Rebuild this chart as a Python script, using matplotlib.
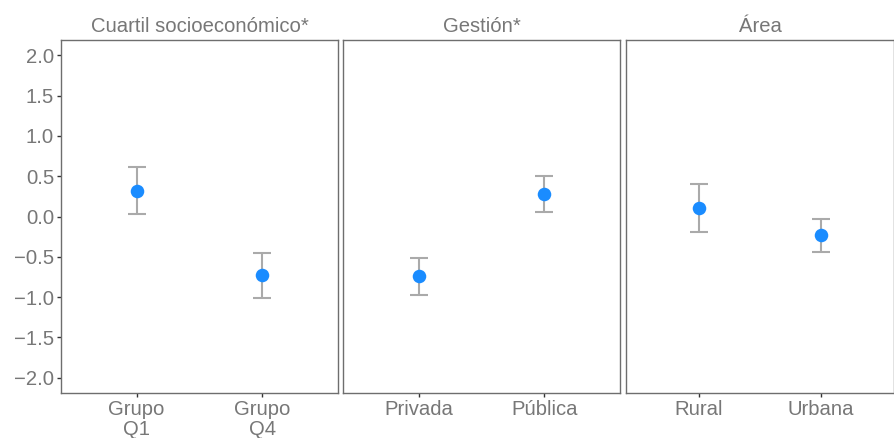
import matplotlib
matplotlib.use("Agg")
import matplotlib.pyplot as plt

# facet titles
panels = ["Cuartil socioeconómico*", "Gestión*", "Área"]

# categories per panel
cats = [["Grupo\nQ1", "Grupo\nQ4"], ["Privada", "Pública"], ["Rural", "Urbana"]]

# point estimates and confidence bounds
est = [[0.32, -0.73], [-0.74, 0.28], [0.10, -0.23]]
low = [[0.03, -1.01], [-0.97, 0.06], [-0.19, -0.44]]
high = [[0.61, -0.45], [-0.52, 0.50], [0.40, -0.03]]

yticks = [-2.0, -1.5, -1.0, -0.5, 0.0, 0.5, 1.0, 1.5, 2.0]

W, H = 894, 438
fig = plt.figure(figsize=(W / 100, H / 100), dpi=100)
plt.rcParams['font.family'] = ['Liberation Sans', 'DejaVu Sans']

txt_col = "#777777"
frame_col = "#6e6e6e"
fs = 14.6

# panel boxes in pixels: left, right
boxes = [(61, 338), (343, 620), (626, 894)]
top, bottom = 40, 393

for i, (l, r) in enumerate(boxes):
    ax = fig.add_axes([l / W, 1 - bottom / H, (r - l) / W, (bottom - top) / H])
    x = [1, 2]
    yerr = [[e - lo for e, lo in zip(est[i], low[i])],
            [hi - e for e, hi in zip(est[i], high[i])]]
    ax.errorbar(x, est[i], yerr=yerr, fmt="none", ecolor="#aaaaaa",
                elinewidth=1.5, capsize=6.5, capthick=1.5, zorder=2)
    ax.scatter(x, est[i], s=95, color="#1a8cff", zorder=3, linewidths=0)
    ax.set_xlim(0.4, 2.6)
    ax.set_ylim(-2.19, 2.19)
    ax.set_xticks(x)
    ax.set_xticklabels(cats[i], fontsize=fs, color=txt_col, linespacing=1.1)
    ax.set_yticks(yticks)
    if i == 0:
        ax.set_yticklabels(["\u2212%.1f" % abs(v) if v < 0 else "%.1f" % v for v in yticks],
                           fontsize=fs, color=txt_col)
        ax.tick_params(axis="y", length=3, width=1, color="#333333", pad=2)
    else:
        ax.tick_params(axis="y", length=0, labelleft=False)
    ax.tick_params(axis="x", length=3, width=1, color="#333333", pad=2)
    for s in ax.spines.values():
        s.set_color(frame_col)
        s.set_linewidth(1.0)
    ax.set_title(panels[i], fontsize=fs, color=txt_col, pad=6)

fig.savefig("out.png", dpi=100)
